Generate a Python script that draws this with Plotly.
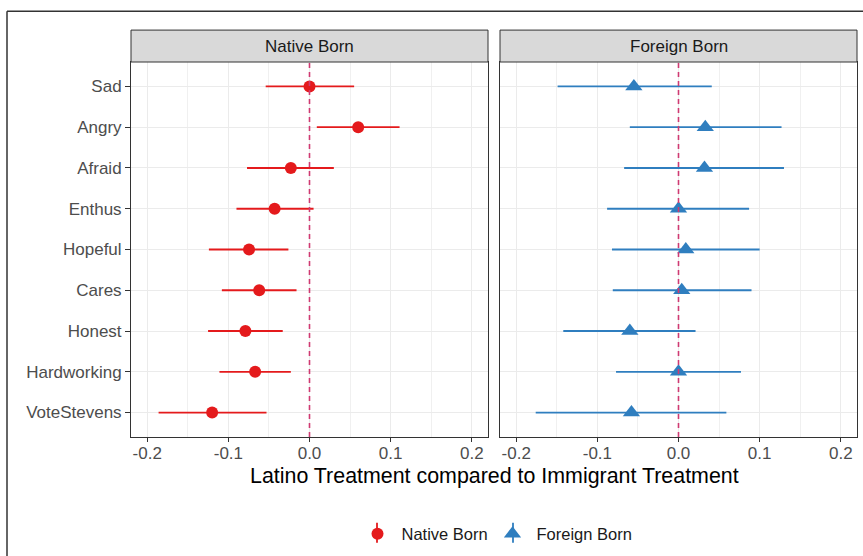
import plotly.graph_objects as go

categories = ["Sad", "Angry", "Afraid", "Enthus", "Hopeful", "Cares", "Honest", "Hardworking", "VoteStevens"]

native_est = [0.000, 0.060, -0.023, -0.043, -0.0745, -0.062, -0.079, -0.067, -0.120]
native_lo = [-0.054, 0.009, -0.077, -0.090, -0.124, -0.108, -0.125, -0.111, -0.186]
native_hi = [0.055, 0.111, 0.030, 0.005, -0.026, -0.016, -0.033, -0.023, -0.053]

foreign_est = [-0.055, 0.033, 0.032, 0.000, 0.009, 0.004, -0.060, 0.000, -0.058]
foreign_lo = [-0.149, -0.060, -0.067, -0.088, -0.082, -0.081, -0.142, -0.077, -0.176]
foreign_hi = [0.041, 0.127, 0.130, 0.087, 0.100, 0.090, 0.021, 0.077, 0.059]

x_ticks = [-0.2, -0.1, 0.0, 0.1, 0.2]
x_ticklabels = ["-0.2", "-0.1", "0.0", "0.1", "0.2"]
panel_titles = ["Native Born", "Foreign Born"]
x_title = "Latino Treatment compared to Immigrant Treatment"

RED = "#E41A1C"
BLUE = "#2F7EBF"
FONT = "Liberation Sans, Arial, sans-serif"

fig = go.Figure()

fig.add_trace(go.Scatter(
    x=native_est, y=categories, mode="markers", name="Native Born",
    marker=dict(symbol="circle", size=12, color=RED),
    error_x=dict(type="data", symmetric=False,
                 array=[h - e for h, e in zip(native_hi, native_est)],
                 arrayminus=[e - l for e, l in zip(native_est, native_lo)],
                 color=RED, thickness=1.8, width=0),
    xaxis="x", yaxis="y"))

fig.add_trace(go.Scatter(
    x=foreign_est, y=categories, mode="markers", name="Foreign Born",
    marker=dict(symbol="triangle-up", size=15, color=BLUE),
    error_x=dict(type="data", symmetric=False,
                 array=[h - e for h, e in zip(foreign_hi, foreign_est)],
                 arrayminus=[e - l for e, l in zip(foreign_est, foreign_lo)],
                 color=BLUE, thickness=1.8, width=0),
    xaxis="x2", yaxis="y2"))

# invisible spacer entry so the last legend label is not clipped
fig.add_trace(go.Scatter(
    x=[0], y=[categories[0]], mode="markers", name=" ",
    marker=dict(size=1, color="rgba(0,0,0,0)"), hoverinfo="skip",
    xaxis="x", yaxis="y"))

W, H = 863, 556
L, R, T, B = 131, 6, 62, 118
pw = W - L - R
ph = H - T - B
d1 = (488 - L) / pw
d2 = (500 - L) / pw

xcommon = dict(range=[-0.22, 0.22], tickvals=x_ticks, ticktext=x_ticklabels,
               showgrid=True, gridcolor="#EBEBEB", gridwidth=1.1,
               minor=dict(dtick=0.05, tick0=0, showgrid=True, gridcolor="#F0F0F0", gridwidth=1),
               zeroline=False, showline=True, mirror=True, linecolor="#333333", linewidth=1,
               ticks="outside", ticklen=4, tickwidth=1, tickcolor="#333333",
               ticklabelstandoff=-3,
               tickfont=dict(family=FONT, size=17, color="#4D4D4D"))
ycommon = dict(type="category", categoryorder="array", categoryarray=categories,
               range=[8.6, -0.6], showgrid=True, gridcolor="#EBEBEB", gridwidth=1.1,
               zeroline=False, showline=True, mirror=True, linecolor="#333333", linewidth=1,
               ticks="outside", ticklen=5, tickwidth=1, tickcolor="#333333",
               tickfont=dict(family=FONT, size=17, color="#4D4D4D"))

leg_y = (438 - 534) / ph
fig.update_layout(
    width=W, height=H, autosize=False,
    margin=dict(l=L, r=R, t=T, b=B, pad=0),
    paper_bgcolor="white", plot_bgcolor="white",
    font=dict(family=FONT, color="#1A1A1A"),
    xaxis=dict(domain=[0, d1], anchor="y", **xcommon),
    xaxis2=dict(domain=[d2, 1], anchor="y2", **xcommon),
    yaxis=dict(domain=[0, 1], anchor="x", **ycommon),
    yaxis2=dict(domain=[0, 1], anchor="x2", matches="y", showticklabels=False,
                **{k: v for k, v in ycommon.items() if k not in ("ticks", "tickfont")}, ticks=""),
    showlegend=True,
    legend=dict(orientation="h", x=(556 - L) / pw, xanchor="center", y=leg_y, yanchor="middle",
                itemwidth=38, entrywidth=82, entrywidthmode="pixels",
                font=dict(family=FONT, size=16.5, color="#1A1A1A"), bgcolor="rgba(0,0,0,0)"),
)

shapes = []
annotations = []
strip_h = 32 / ph
for i, (xr, dom) in enumerate([("x", (0, d1)), ("x2", (d2, 1))]):
    shapes.append(dict(type="line", xref=xr, yref="paper", x0=0, x1=0, y0=0, y1=1,
                       line=dict(color="#CF3A72", width=1.6, dash="5px,4px")))
    shapes.append(dict(type="rect", xref="paper", yref="paper", x0=dom[0], x1=dom[1],
                       y0=1, y1=1 + strip_h, fillcolor="#D9D9D9",
                       line=dict(color="#333333", width=1)))
    annotations.append(dict(xref="paper", yref="paper", x=(dom[0] + dom[1]) / 2,
                            y=1 + strip_h / 2, text=panel_titles[i], showarrow=False,
                            xanchor="center", yanchor="middle",
                            font=dict(family=FONT, size=17, color="#1A1A1A")))

annotations.append(dict(xref="paper", yref="paper", x=(494 - L) / pw, y=(438 - 477) / ph,
                        text=x_title, showarrow=False, xanchor="center", yanchor="middle",
                        font=dict(family=FONT, size=21.4, color="#000000")))

# vertical error-bar strokes in the legend keys
for px, col in [(377, RED), (513, BLUE)]:
    xp = (px - L) / pw
    shapes.append(dict(type="line", xref="paper", yref="paper", x0=xp, x1=xp,
                       y0=(438 - 524) / ph, y1=(438 - 544) / ph,
                       line=dict(color=col, width=1.8)))

# outer frame (top and left edges)
fx = (7 - L) / pw
fy = (438 - 11) / ph
shapes.append(dict(type="line", xref="paper", yref="paper", x0=fx, x1=1.2, y0=fy, y1=fy,
                   line=dict(color="#333333", width=1.5)))
shapes.append(dict(type="line", xref="paper", yref="paper", x0=fx, x1=fx, y0=fy, y1=-0.5,
                   line=dict(color="#333333", width=1.5)))

fig.update_layout(shapes=shapes, annotations=annotations)

fig.write_html("out.html")
